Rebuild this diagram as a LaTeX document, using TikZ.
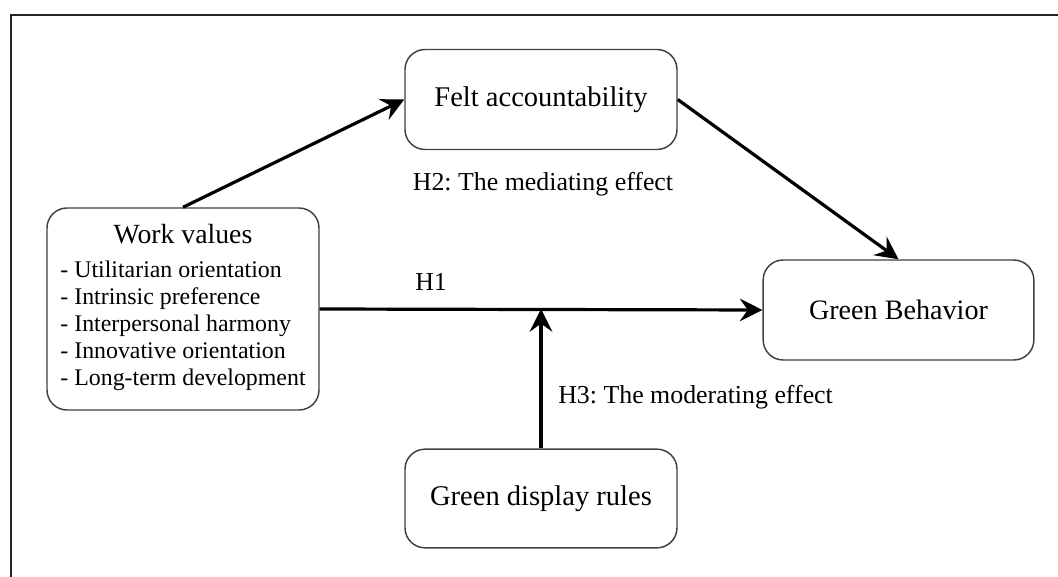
\documentclass[tikz,border=0pt]{standalone}
\usepackage{fontspec}
\setmainfont{Liberation Serif}
\frenchspacing
\usetikzlibrary{arrows.meta}

\tikzset{
  varbox/.style={draw=black!75, line width=1.1pt, rounded corners=15pt, fill=white, inner sep=0pt},
  patharrow/.style={line width=2.4pt, -{Stealth[length=17pt, width=17pt, inset=6pt]}},
  hlabel/.style={inner sep=0pt, font=\fontsize{19.4}{23}\selectfont}
}

\begin{document}
\begin{tikzpicture}[x=0.75pt,y=0.75pt,yscale=-1,xscale=1]
\useasboundingbox (0,0) rectangle (1058,577);

% frame (only top and left edges show)
\draw[line width=1.5pt, black!85] (11,577) -- (11,15) -- (1058,15);

% boxes (sizes in pt: 0.75pt per pixel)
\node[varbox, minimum width=204pt, minimum height=75pt, font=\fontsize{21.4}{25}\selectfont] (fa) at (541,99.5) {Felt accountability};
\node[varbox, minimum width=203pt, minimum height=75pt, font=\fontsize{21.1}{25}\selectfont] (gb) at (898.5,310) {Green Behavior};
\node[varbox, minimum width=204pt, minimum height=74pt, font=\fontsize{21.4}{25}\selectfont] (gdr) at (541,498.5) {Green display rules};
\node[varbox, minimum width=204pt, minimum height=151.5pt] (wv) at (183,309) {%
  \fontsize{17.9}{20.4}\selectfont
  \begin{tabular}{@{}l@{}}
    \multicolumn{1}{@{}c@{}}{\fontsize{20.8}{24}\selectfont Work values}\\[5pt]
    - Utilitarian orientation\\
    - Intrinsic preference\\
    - Interpersonal harmony\\
    - Innovative orientation\\
    - Long-term development
  \end{tabular}};

% junction on the H1 path
\coordinate (mod) at (gdr.north |- wv.east);

% arrows
\draw[patharrow] (wv.north) -- (fa.west);
\draw[patharrow] (fa.east) -- (gb.north);
\draw[patharrow] (wv.east) -- (gb.west);
\draw[patharrow] (gdr.north) -- (mod);

% labels
\node[hlabel, anchor=base] (h2) at (543,191) {H2: The mediating effect};
\node[hlabel, anchor=base west] (h1) at (415,291) {H1};
\node[hlabel, anchor=base west] (h3) at (558,404) {H3: The moderating effect};

\end{tikzpicture}
\end{document}
